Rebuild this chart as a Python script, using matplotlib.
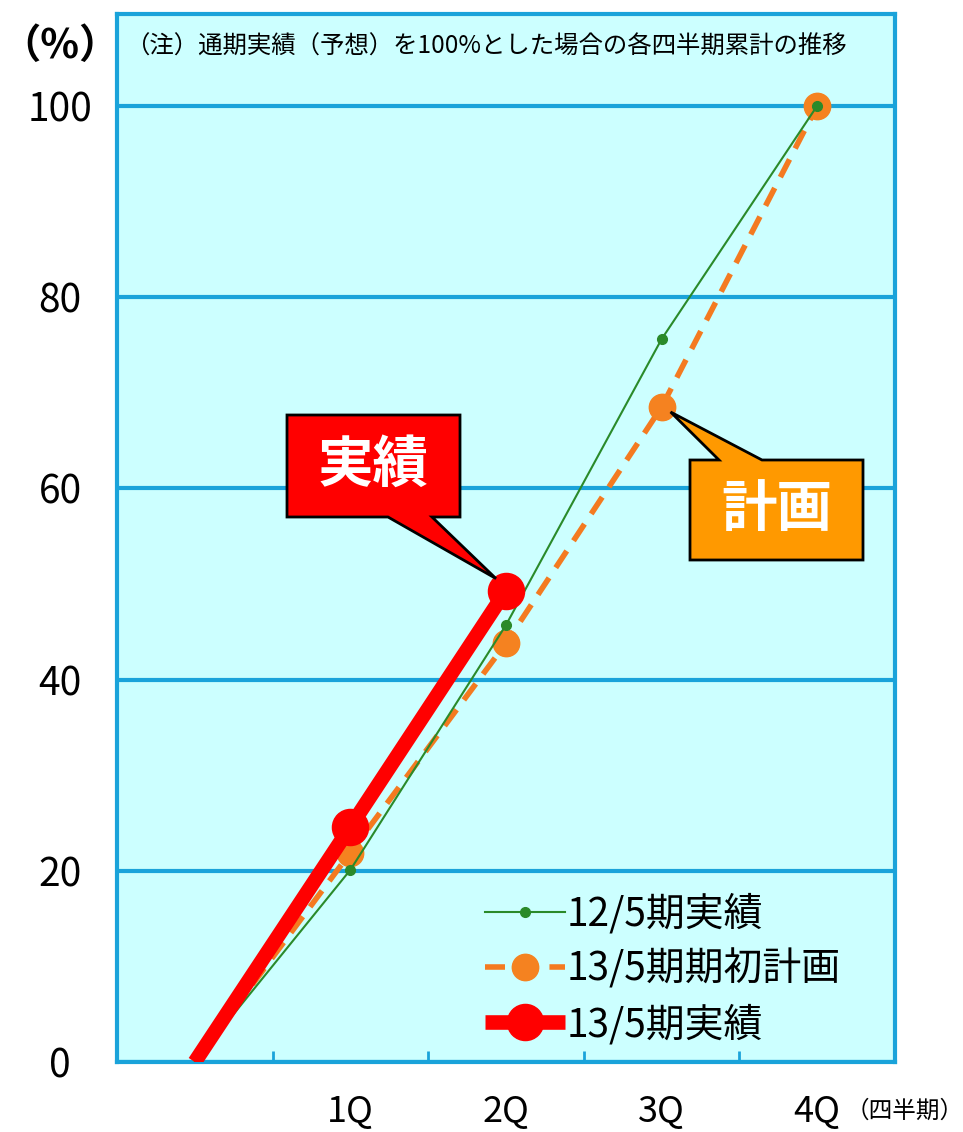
import matplotlib.pyplot as plt
from matplotlib.patches import Polygon
import numpy as np

plt.rcParams['font.family'] = ['Noto Sans CJK JP', 'DejaVu Sans']

# data (percent of full-year total, cumulative by quarter)
quarters = ['', '1Q', '2Q', '3Q', '4Q']
actual_12 = [0, 20.1, 45.7, 75.6, 100]
plan_13 = [0, 21.9, 43.8, 68.5, 100]
actual_13 = [0, 24.6, 49.3]
y_ticks = [0, 20, 40, 60, 80, 100]

blue = '#1AA3DA'
bg = '#CCFFFF'

fig = plt.figure(figsize=(9.63, 11.32), dpi=100)
ax = fig.add_axes([117 / 963, 1 - 1062 / 1132, 778 / 963, 1048 / 1132])
ax.set_facecolor(bg)

x = np.arange(len(quarters))
ax.plot(x, plan_13, color='#F47A20', lw=4, linestyle=(0, (3.6, 2.2)),
        marker='o', ms=19, mfc='#F58220', mec='#F58220',
        markevery=list(range(1, len(plan_13))), zorder=3, label='13/5期期初計画')
ax.plot(x, actual_12, color='#2A8A2A', lw=1.5, marker='o', ms=7,
        markevery=list(range(1, len(actual_12))), zorder=4, label='12/5期実績')
ax.plot(x[:len(actual_13)], actual_13, color='#FF0000', lw=10.5, marker='o', ms=26,
        solid_capstyle='butt', markevery=list(range(1, len(actual_13))),
        zorder=5, label='13/5期実績')

ax.set_xlim(-0.5, 4.5)
ax.set_ylim(0, 109.6)
ax.set_yticks(y_ticks)
ax.yaxis.grid(True, color=blue, lw=3)
ax.set_axisbelow(True)
ax.tick_params(axis='y', length=0, labelsize=28, pad=0)
for lab in ax.get_yticklabels():
    lab.set_horizontalalignment('center')
    lab.set_x(-0.073)
ax.set_xticks(x[:-1] + 0.5)
ax.set_xticklabels([])
ax.tick_params(axis='x', direction='in', length=8, width=2, color=blue)
for s in ax.spines.values():
    s.set_color(blue)
    s.set_linewidth(3)

for i, q in enumerate(quarters):
    if q:
        ax.text(i, -3.3, q, ha='center', va='top', fontsize=26,
                transform=ax.transData, clip_on=False)
fig.text(846 / 963, 1 - 1111 / 1132, '（四半期）', fontsize=17, ha='left', va='center')
fig.text(60 / 963, 1 - 46 / 1132, '（%）', fontsize=29, ha='center', va='center',
         fontweight='bold')
fig.text(125 / 963, 1 - 47 / 1132, '（注）通期実績（予想）を100%とした場合の各四半期累計の推移',
         fontsize=17.6, ha='left', va='center')

h, l = ax.get_legend_handles_labels()
order = [1, 0, 2]
leg = ax.legend([h[i] for i in order], [l[i] for i in order], loc='upper left',
                bbox_to_anchor=((485 - 117) / 778, 1 - (894 - 14) / 1048),
                frameon=False, fontsize=28, handlelength=2.05, handletextpad=0.05,
                labelspacing=0.38, borderpad=0, borderaxespad=0)


# callouts
def callout(box, base, tip, color, text):
    W, H = 963, 1132
    x0, y0, x1, y1 = box
    b0, b1 = base
    tx, ty = tip
    if ty > y1:
        pts = [(x0, y0), (x1, y0), (x1, y1), (b1, y1), (tx, ty), (b0, y1), (x0, y1)]
    else:
        pts = [(x0, y0), (b0, y0), (tx, ty), (b1, y0), (x1, y0), (x1, y1), (x0, y1)]
    pts = [(px / W, 1 - py / H) for px, py in pts]
    fig.patches.append(Polygon(pts, closed=True, fc=color, ec='black', lw=2,
                               transform=fig.transFigure, zorder=10))
    fig.text((x0 + x1) / 2 / W, 1 - (y0 + y1) / 2 / H, text, color='white',
             fontsize=40, fontweight='bold', ha='center', va='center', zorder=11)


fig.canvas.draw()
tip_r = ax.transData.transform((2, actual_13[2]))
tip_o = ax.transData.transform((3, plan_13[3]))
callout((287, 415, 460, 517), (388, 432), (tip_r[0] - 10, 1132 - tip_r[1] - 12), '#FF0000', '実績')
callout((690, 460, 863, 560), (719, 762), (tip_o[0] + 9, 1132 - tip_o[1] + 5), '#FF9900', '計画')

fig.savefig('out.png', dpi=100)
